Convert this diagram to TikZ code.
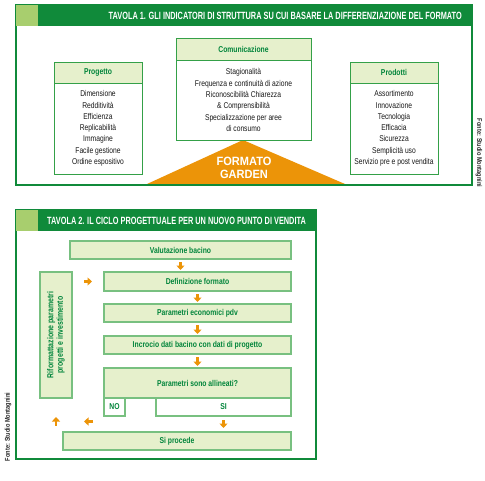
\documentclass[tikz,border=0pt]{standalone}
\usepackage{fontspec}
\setmainfont{Liberation Sans}[FakeStretch=0.8]
\newfontfamily\hdfont{Liberation Sans}[FakeStretch=0.7]
\newfontfamily\gardenfont{Liberation Sans}[FakeStretch=0.92]
\usetikzlibrary{arrows.meta,positioning}
\definecolor{gDark}{RGB}{16,138,58}
\definecolor{gSquare}{RGB}{168,206,110}
\definecolor{gFill}{RGB}{230,240,204}
\definecolor{gLine}{RGB}{52,160,72}
\definecolor{gSoft}{RGB}{120,192,128}
\definecolor{gText}{RGB}{0,132,58}
\definecolor{cOr}{RGB}{236,148,8}

\begin{document}
\begin{tikzpicture}[x=1pt,y=1pt,
    hdtext/.style={font=\hdfont\fontsize{10.5}{12}\selectfont\bfseries,text=white,inner sep=0pt},
    boxhead/.style={rectangle,draw=gLine,fill=gFill,line width=0.9pt,outer sep=0pt,minimum height=21pt,font=\fontsize{8.5}{10}\selectfont\bfseries,text=gText},
    boxbody/.style={rectangle,draw=gLine,fill=white,line width=0.9pt,outer sep=0pt,font=\fontsize{8.4}{11.3}\selectfont,text=black!90,align=center},
    flowbox/.style={rectangle,draw=gSoft,fill=gFill,line width=1.2pt,outer sep=0pt,font=\fontsize{8.5}{10}\selectfont\bfseries,text=gText,align=center},
    source/.style={font=\fontsize{7}{8}\selectfont\bfseries,text=black!85,inner sep=0pt},
    oarr/.style={draw=cOr,line width=2.2pt,-{Triangle[length=4.5pt,width=8pt]}},
    frame/.style={draw=gDark,line width=1.8pt}
  ]
  \useasboundingbox (0,0) rectangle (485,-480);

  % Tavola 1
  \fill[cOr] (147,-184) -- (243,-140) -- (345,-184) -- cycle;
  \draw[frame] (16,-5) rectangle (472,-185);
  \fill[gDark] (16,-5) rectangle (472,-26);
  \fill[gSquare] (16,-5) rectangle (38,-26);
  \node[hdtext,anchor=east] (t1) at (462,-15.5) {TAVOLA 1. GLI INDICATORI DI STRUTTURA SU CUI BASARE LA DIFFERENZIAZIONE DEL FORMATO};

  \node[boxhead,minimum width=88pt] (prog) at (98,-72.5) {Progetto};
  \node[boxbody,minimum width=88pt,minimum height=91pt,below=0pt of prog] (progb)
    {Dimensione\\Redditività\\Efficienza\\Replicabilità\\Immagine\\Facile gestione\\Ordine espositivo};

  \node[boxhead,minimum width=135pt,minimum height=22pt] (com) at (243.5,-49) {Comunicazione};
  \node[boxbody,minimum width=135pt,minimum height=80pt,below=0pt of com] (comb)
    {Stagionalità\\Frequenza e continuità di azione\\Riconoscibilità Chiarezza\\\& Comprensibilità\\Specializzazione per aree\\di consumo};

  \node[boxhead,minimum width=88pt] (prod) at (394,-72.5) {Prodotti};
  \node[boxbody,minimum width=88pt,minimum height=91pt,below=0pt of prod] (prodb)
    {Assortimento\\Innovazione\\Tecnologia\\Efficacia\\Sicurezza\\Semplicità uso\\Servizio pre e post vendita};

  \node[font=\gardenfont\fontsize{12}{12.5}\selectfont\bfseries,text=white,align=center,inner sep=0pt] (garden) at (244,-168) {FORMATO\\GARDEN};
  \node[source,rotate=-90] (src1) at (479,-153) {Fonte: Studio Montagnini};

  % Tavola 2
  \draw[frame] (16,-210) rectangle (316,-459);
  \fill[gDark] (16,-210) rectangle (316,-231);
  \fill[gSquare] (16,-210) rectangle (38,-231);
  \node[hdtext,anchor=west] (t2) at (47,-220.5) {TAVOLA 2. IL CICLO PROGETTUALE PER UN NUOVO PUNTO DI VENDITA};

  \node[flowbox,minimum width=221pt,minimum height=18pt] (valut) at (180.5,-250) {Valutazione bacino};
  \node[flowbox,minimum width=187pt,minimum height=19pt,below left=13pt and 0pt of valut.south east] (def) {Definizione formato};
  \node[flowbox,minimum width=187pt,minimum height=18pt,below=13pt of def] (param) {Parametri economici pdv};
  \node[flowbox,minimum width=187pt,minimum height=18pt,below=14pt of param] (incr) {Incrocio dati bacino con dati di progetto};
  \node[flowbox,minimum width=187pt,minimum height=30pt,below=14pt of incr] (alli) {Parametri sono allineati?};
  \node[flowbox,fill=white,minimum width=21pt,minimum height=18pt,below right=0pt and 0pt of alli.south west] (no) {NO};
  \node[flowbox,fill=white,minimum width=135pt,minimum height=18pt,below left=0pt and 0pt of alli.south east] (si) {SI};
  \node[flowbox,minimum width=228pt,minimum height=18pt,below left=16pt and 0pt of si.south east] (proc) {Si procede};
  \node[flowbox,minimum width=32pt,minimum height=126pt,below left=0pt and 32pt of def.north west] (rif) {};
  \node[flowbox,draw=none,fill=none,rotate=90,inner sep=0pt,font=\fontsize{8.7}{9.5}\selectfont\bfseries] (riftxt) at (rif) {Riformattazione parametri\\progetti e investimento};
  \coordinate[below=23.5pt of rif.south] (back);

  \draw[oarr,shorten <=3pt,shorten >=2pt] (valut.south) -- (valut.south |- def.north);
  \draw[oarr,shorten <=3pt,shorten >=2pt] (def) -- (param);
  \draw[oarr,shorten <=3pt,shorten >=2pt] (param) -- (incr);
  \draw[oarr,shorten <=3pt,shorten >=2pt] (incr) -- (alli);
  \draw[oarr,shorten <=4pt,shorten >=4pt] (si.south) -- (si.south |- proc.north);
  \draw[oarr,shorten <=12pt,shorten >=12pt] (rif.east |- def.west) -- (def.west);
  \draw[oarr,shorten <=11pt,shorten >=28pt] (no.south west |- back) -- (back);
  \draw[oarr,shorten >=19pt] ([yshift=-4pt]back) -- (rif.south);

  \node[source,rotate=90] (src2) at (8,-427) {Fonte: Studio Montagnini};
\end{tikzpicture}
\end{document}
